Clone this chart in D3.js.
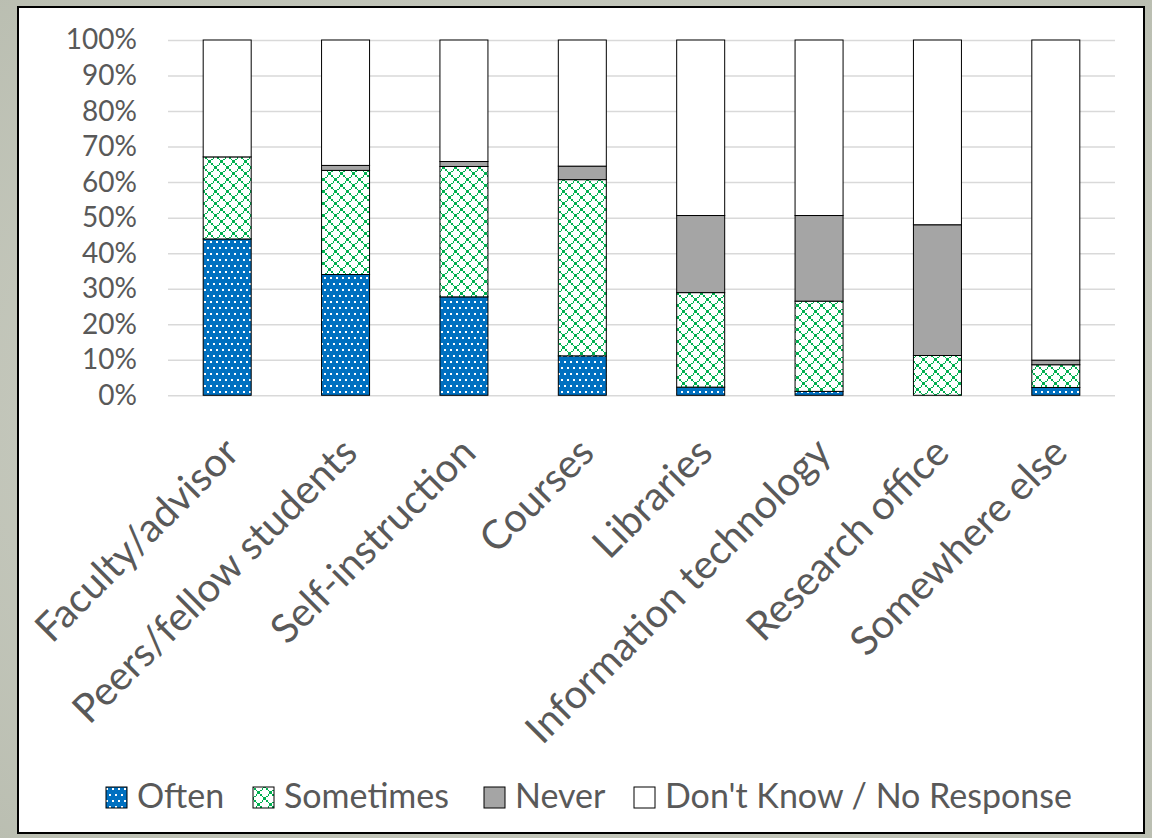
<!DOCTYPE html>
<html>
<head>
<meta charset="utf-8">
<script src="https://cdn.jsdelivr.net/npm/d3@7"></script>
<style>
  html, body { margin: 0; padding: 0; background: #c9ccc0; }
  svg { display: block; }
  text { font-family: Lato, "Open Sans", sans-serif; fill: #595959; }
</style>
</head>
<body>
<svg id="chart" width="1152" height="838"></svg>
<script>
// ---- data ----
const categories = ["Faculty/advisor", "Peers/fellow students", "Self-instruction", "Courses",
                    "Libraries", "Information technology", "Research office", "Somewhere else"];
const often     = [44.0, 34.0, 27.7, 11.1, 2.3, 1.1, 0.0, 2.2];
const sometimes = [23.1, 29.3, 36.7, 49.6, 26.6, 25.4, 11.2, 6.4];
const never     = [0.0, 1.4, 1.4, 3.8, 21.7, 24.1, 36.8, 1.3];
const dontKnow  = [32.9, 35.3, 34.2, 35.5, 49.4, 49.4, 52.0, 90.1];
const seriesNames = ["Often", "Sometimes", "Never", "Don't Know / No Response"];
const yTicks = [0, 10, 20, 30, 40, 50, 60, 70, 80, 90, 100];

// ---- build table ----
const seriesKeys = ["often", "sometimes", "never", "dontKnow"];
const seriesVals = [often, sometimes, never, dontKnow];
const table = categories.map((c, i) => {
  const row = { category: c };
  seriesKeys.forEach((k, j) => row[k] = seriesVals[j][i]);
  return row;
});
const stacked = d3.stack().keys(seriesKeys)(table);

const svg = d3.select("#chart");
const W = 1152, H = 838;

// background
const defs = svg.append("defs");
const bg = defs.append("radialGradient").attr("id", "bgGrad").attr("cx", "50%").attr("cy", "50%").attr("r", "75%");
bg.append("stop").attr("offset", "0%").attr("stop-color", "#d4d6cc");
bg.append("stop").attr("offset", "100%").attr("stop-color", "#b9bdb0");
svg.append("rect").attr("width", W).attr("height", H).attr("fill", "url(#bgGrad)");

// patterns: 8x8 bitmaps drawn at 1.5x with crisp pixel edges
const P = i => Math.floor(1.5 * i);
function addPattern(id, bgColor, fgColor, pixels) {
  const p = defs.append("pattern").attr("id", id).attr("patternUnits", "userSpaceOnUse")
    .attr("width", 12).attr("height", 12);
  p.append("rect").attr("width", 12).attr("height", 12).attr("fill", bgColor);
  pixels.forEach(([c, r]) => {
    p.append("rect").attr("x", P(c)).attr("y", P(r))
      .attr("width", P(c + 1) - P(c)).attr("height", P(r + 1) - P(r))
      .attr("fill", fgColor).attr("shape-rendering", "crispEdges");
  });
}
const diamondPixels = [];
for (let i = 0; i < 8; i++) { diamondPixels.push([i, i]); diamondPixels.push([7 - i, i]); }
addPattern("pSome", "#FFFFFF", "#00B050", diamondPixels);

const pOften = defs.append("pattern").attr("id", "pOften").attr("patternUnits", "userSpaceOnUse")
  .attr("width", 6).attr("height", 12);
pOften.append("rect").attr("width", 6).attr("height", 12).attr("fill", "#0070C0");
pOften.append("rect").attr("x", 0).attr("y", 1).attr("width", 2).attr("height", 2).attr("fill", "#fff");
pOften.append("rect").attr("x", 3).attr("y", 7).attr("width", 2).attr("height", 2).attr("fill", "#fff");

const fills = { often: "url(#pOften)", sometimes: "url(#pSome)", never: "#A5A5A5", dontKnow: "#FFFFFF" };

// chart frame
svg.append("rect").attr("x", 18).attr("y", 7).attr("width", 1126).attr("height", 826)
  .attr("fill", "#fff").attr("stroke", "#000").attr("stroke-width", 2);

// scales
const x = d3.scaleBand().domain(categories).range([168, 1115]).paddingInner(0.5945).paddingOuter(0.29725);
const y = d3.scaleLinear().domain([0, 100]).range([395.3, 40]);

// gridlines + y axis
const yAxis = svg.append("g").attr("transform", "translate(168,0)")
  .call(d3.axisLeft(y).tickValues(yTicks).tickFormat(d => d + "%").tickSize(-(1115 - 168)).tickPadding(31));
yAxis.select(".domain").remove();
yAxis.selectAll(".tick line").attr("stroke", "#D9D9D9").attr("stroke-width", 1.5);
yAxis.selectAll(".tick text").attr("font-size", 28).attr("fill", "#595959").style("font-family", "Lato, 'Open Sans', sans-serif");

// bars
svg.append("g").selectAll("g").data(stacked).join("g")
  .attr("fill", d => fills[d.key])
  .selectAll("rect").data(d => d).join("rect")
  .attr("x", d => x(d.data.category))
  .attr("y", d => y(d[1]))
  .attr("width", x.bandwidth())
  .attr("height", d => Math.max(0, y(d[0]) - y(d[1])))
  .attr("stroke", "#000").attr("stroke-width", 1)
  .attr("display", d => (d[1] - d[0]) > 0 ? null : "none");

// category labels
svg.append("g").selectAll("text").data(categories).join("text")
  .attr("transform", d => `translate(${x(d) + x.bandwidth() / 2 + 14},${455}) rotate(-45)`)
  .attr("text-anchor", "end")
  .attr("font-size", 40)
  .text(d => d);

// legend
const legendX = [106, 253, 484, 634];
const legend = svg.append("g");
seriesKeys.forEach((k, i) => {
  const g = legend.append("g").attr("transform", `translate(${legendX[i]},787)`);
  g.append("rect").attr("width", 21).attr("height", 21).attr("fill", fills[k]).attr("stroke", "#000").attr("stroke-width", 1);
  g.append("text").attr("x", 31).attr("y", 21).attr("font-size", 34).text(seriesNames[i]);
});
</script>
</body>
</html>
